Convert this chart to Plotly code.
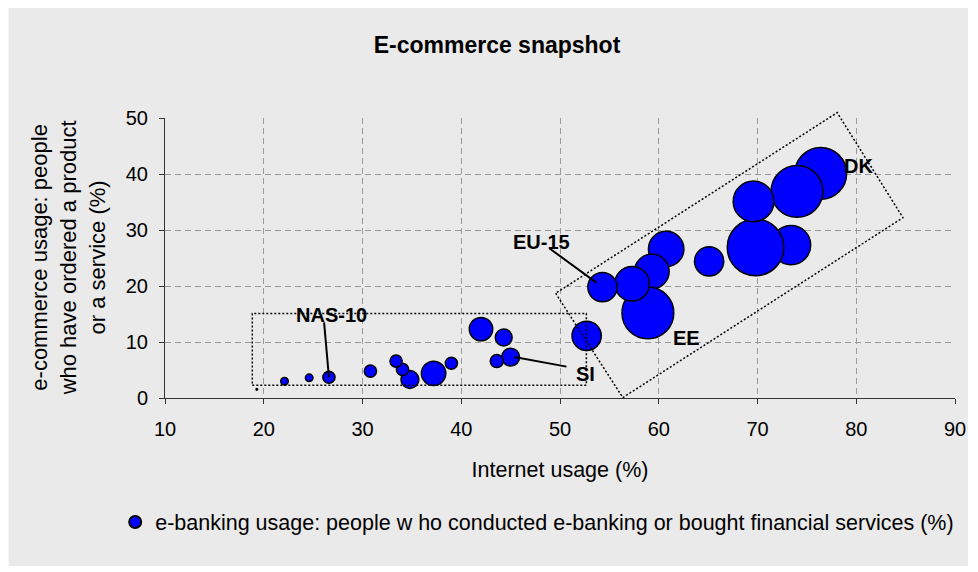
import plotly.graph_objects as go

# ---------------- data ----------------
internet_usage = [76.4, 74.0, 73.4, 69.8, 69.6, 65.1, 60.75, 59.3, 58.9, 57.3, 54.3, 52.7,
                  45.0, 44.3, 43.6, 42.0, 39.0, 37.2, 34.8, 34.05, 33.4, 30.8, 26.6, 24.6, 22.1, 19.3]
ecommerce_usage = [40.1, 36.9, 27.3, 26.9, 35.1, 24.4, 26.6, 22.6, 15.2, 20.4, 19.8, 11.1,
                   7.3, 10.8, 6.6, 12.3, 6.2, 4.4, 3.3, 5.1, 6.6, 4.8, 3.7, 3.6, 3.0, 1.55]
ebanking_usage = [47, 47, 27, 56, 29, 15, 22, 21, 47, 21, 15, 15,
                  5.6, 5, 3, 9.6, 2.6, 10.4, 5.6, 2.6, 2.6, 2.6, 2.6, 1, 1, 0.05]

x_tick_vals = [10, 20, 30, 40, 50, 60, 70, 80, 90]
y_tick_vals = [0, 10, 20, 30, 40, 50]

label_texts = ["NAS-10", "EU-15", "SI", "EE", "DK"]
label_x = [26.83, 48.12, 52.54, 62.8, 80.2]
label_y = [14.8, 27.9, 4.23, 10.75, 41.4]

# leader lines: (x0, y0) -> (x1, y1)
leader_x0 = [26.11, 48.95, 50.66]
leader_y0 = [13.52, 26.7, 5.6]
leader_x1 = [26.6, 53.68, 45.38]
leader_y1 = [3.7, 20.6, 7.32]

# group boxes
nas_box_x = [18.84, 52.67]
nas_box_y = [2.27, 15.1]
eu_box_x = [49.56, 56.36, 84.73, 78.07]
eu_box_y = [18.7, 0.07, 32.2, 50.96]

X_RANGE = [10, 90]
Y_RANGE = [0, 50]

FONT = "Liberation Sans, Arial, sans-serif"

fig = go.Figure()
fig.add_trace(go.Scatter(
    x=internet_usage, y=ecommerce_usage, mode="markers",
    name="e-banking usage: people w ho conducted e-banking or bought financial services (%)",
    marker=dict(size=ebanking_usage, sizemode="area", sizeref=0.035, sizemin=0,
                color="#0000FF", line=dict(color="black", width=1.5), opacity=1),
    hoverinfo="x+y",
))

def to_paper_x(v):
    return (v - X_RANGE[0]) / (X_RANGE[1] - X_RANGE[0])

def to_paper_y(v):
    return (v - Y_RANGE[0]) / (Y_RANGE[1] - Y_RANGE[0])

shapes = []
# figure is placed 8px into the page by the html body margin
W, H = 970, 564
L, R, T, B = 157, 20, 110, 174
pw, ph = W - L - R, H - T - B
shapes.append(dict(type="rect", xref="paper", yref="paper",
                   x0=(0 - L) / pw, x1=(963 - L) / pw,
                   y0=(H - B - 558) / ph, y1=(H - B - 0) / ph,
                   fillcolor="#EAEAEA", line=dict(width=0), layer="below"))
# NAS-10 box
shapes.append(dict(type="rect", xref="x", yref="y",
                   x0=nas_box_x[0], x1=nas_box_x[1], y0=nas_box_y[0], y1=nas_box_y[1],
                   line=dict(color="black", width=1.5, dash="2px,2px"), layer="above"))
# EU-15 rotated box
pts = [(to_paper_x(a), to_paper_y(b)) for a, b in zip(eu_box_x, eu_box_y)]
path = "M " + " L ".join(f"{a:.5f},{b:.5f}" for a, b in pts) + " Z"
shapes.append(dict(type="path", xref="paper", yref="paper", path=path,
                   line=dict(color="black", width=1.5, dash="2px,2px"), layer="above"))
# leader lines
for a0, b0, a1, b1 in zip(leader_x0, leader_y0, leader_x1, leader_y1):
    shapes.append(dict(type="line", xref="x", yref="y", x0=a0, y0=b0, x1=a1, y1=b1,
                       line=dict(color="black", width=2), layer="above"))

annotations = []
for t, a, b in zip(label_texts, label_x, label_y):
    annotations.append(dict(x=a, y=b, xref="x", yref="y", text=f"<b>{t}</b>",
                            showarrow=False, xanchor="center", yanchor="middle",
                            font=dict(family=FONT, size=20, color="black")))
# y-axis title
annotations.append(dict(x=(60 - L) / pw, y=0.5, xref="paper", yref="paper",
                        text="e-commerce usage: people<br>who have ordered a product<br>or a service (%)",
                        textangle=-90, showarrow=False, xanchor="center", yanchor="middle",
                        align="center", font=dict(family=FONT, size=22, color="black")))

axis_common = dict(showgrid=True, gridcolor="#999999", gridwidth=1, griddash="6px,4px",
                   showline=True, linecolor="#333333", linewidth=1,
                   ticks="outside", ticklen=5, tickcolor="#333333", tickwidth=1,
                   zeroline=False, tickfont=dict(family=FONT, size=20, color="black"))

fig.update_layout(
    width=W, height=H,
    margin=dict(l=L, r=R, t=T, b=B, pad=0),
    paper_bgcolor="white", plot_bgcolor="rgba(0,0,0,0)",
    font=dict(family=FONT, color="black"),
    title=dict(text="<b>E-commerce snapshot</b>", x=489 / W, xanchor="center",
               y=1 - 37 / H, yanchor="middle", yref="container",
               font=dict(family=FONT, size=23, color="black")),
    xaxis=dict(range=X_RANGE, tickvals=x_tick_vals, ticklabelstandoff=8,
               title=dict(text="Internet usage (%)", standoff=22,
                          font=dict(family=FONT, size=21.5, color="black")),
               **axis_common),
    yaxis=dict(range=Y_RANGE, tickvals=y_tick_vals, ticklabelstandoff=7, **axis_common),
    showlegend=True,
    legend=dict(x=(107 - L) / pw, y=(H - B - 514) / ph, xanchor="left", yanchor="middle",
                bgcolor="rgba(0,0,0,0)", itemsizing="constant",
                font=dict(family=FONT, size=21.5, color="black")),
    shapes=shapes,
    annotations=annotations,
)

fig.write_html("out.html")
